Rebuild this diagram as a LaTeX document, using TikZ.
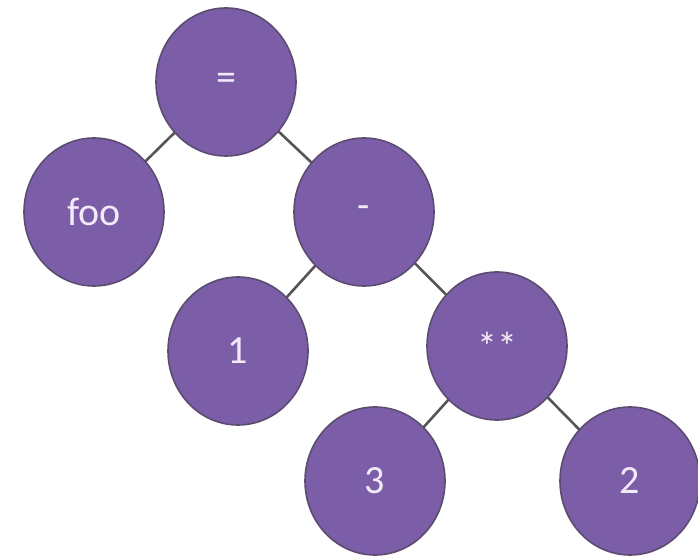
\documentclass[tikz,border=0pt]{standalone}
\usepackage{fontspec}
\setmainfont{Carlito}
\usetikzlibrary{shapes.geometric}
\definecolor{nodefill}{HTML}{7B5EA7}
\definecolor{nodeborder}{HTML}{5B4C70}
\definecolor{edgecol}{HTML}{555555}
\definecolor{txtcol}{HTML}{F3EAF9}
\tikzset{
  treenode/.style={ellipse, minimum width=140pt, minimum height=148pt, inner sep=0pt,
    fill=nodefill, draw=nodeborder, line width=1.6pt, text=txtcol,
    font=\fontsize{40}{40}\selectfont},
  treeedge/.style={draw=edgecol, line width=2.6pt}
}
\begin{document}
\begin{tikzpicture}[x=1pt,y=1pt]
\useasboundingbox (0,0) rectangle (698,556);
\fill[white] (0,0) rectangle (698,556);
\coordinate (pEq) at (226,474);
\coordinate (pFoo) at (94,344);
\coordinate (pMinus) at (364,344);
\coordinate (pOne) at (238,205);
\coordinate (pPow) at (497,210);
\coordinate (pThree) at (375,75);
\coordinate (pTwo) at (630,75);
\draw[treeedge] (pEq) -- (pFoo);
\draw[treeedge] (pEq) -- (pMinus);
\draw[treeedge] (pMinus) -- (pOne);
\draw[treeedge] (pMinus) -- (pPow);
\draw[treeedge] (pPow) -- (pThree);
\draw[treeedge] (pPow) -- (pTwo);
\node[treenode] (eq) at (pEq) {=};
\node[treenode] (foo) at (pFoo) {foo};
\node[treenode] (minus) at (pMinus) {-};
\node[treenode] (one) at (pOne) {1};
\node[treenode] (pow) at (pPow) {**};
\node[treenode] (three) at (pThree) {3};
\node[treenode] (two) at (pTwo) {2};
\end{tikzpicture}
\end{document}
